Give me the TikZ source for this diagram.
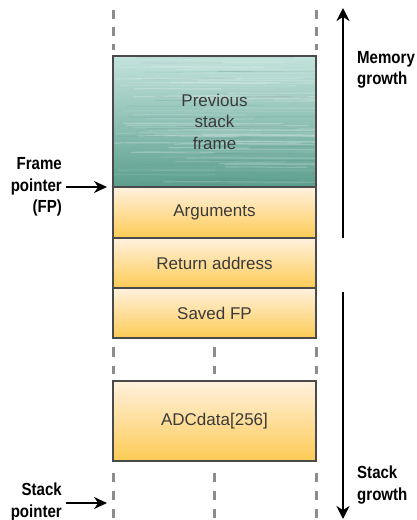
\documentclass[tikz,border=0pt]{standalone}
\usepackage{fontspec}
\setmainfont{Liberation Sans}
\newfontfamily\labelfont[FakeStretch=0.86]{Liberation Sans Bold}
\usetikzlibrary{arrows.meta}

\definecolor{boxline}{HTML}{4A4A4A}
\definecolor{boxtext}{HTML}{3A3A3A}
\definecolor{orangetop}{HTML}{FFF1DE}
\definecolor{orangebot}{HTML}{FDCB55}
\definecolor{tealtop}{HTML}{C3E3DB}
\definecolor{tealbot}{HTML}{5C9F8F}
\definecolor{dashgray}{HTML}{8C8C8C}

\tikzset{
  framebox/.style={draw=boxline, line width=1.3pt, minimum width=203pt,
    inner sep=0pt, text=boxtext, align=center,
    font=\fontsize{17}{21.5}\selectfont},
  localbox/.style={framebox, top color=orangetop, bottom color=orangebot},
  prevbox/.style={framebox, top color=tealtop, bottom color=tealbot},
  column/.style={draw=dashgray, line width=3pt},
  sidelabel/.style={font=\labelfont\fontsize{17.5}{21.5}\selectfont,
    text=black, inner sep=0pt},
  pointer/.style={line width=2.4pt, -{Stealth[length=13pt,width=12pt]}},
  growth/.style={line width=2.4pt, -{Stealth[length=13pt,width=13pt]}}
}

\begin{document}
\begin{tikzpicture}[x=1pt,y=-1pt]
\useasboundingbox (0,0) rectangle (416,520);

% stack frame boxes
\node[prevbox, minimum height=131pt] (prev) at (214.5,121.5) {};
\node[localbox, minimum height=51pt] (args) at (214.5,212.5) {Arguments};
\node[localbox, minimum height=50pt] (ret) at (214.5,263) {Return address};
\node[localbox, minimum height=50pt] (sfp) at (214.5,313) {Saved FP};
\node[localbox, minimum height=80pt] (adc) at (214.5,421) {ADCdata[256]};

% streaks across the previous frame
\begin{scope}
  \clip (114,57) rectangle (315,186);
  \pgfmathsetseed{11}
  \foreach \i in {1,...,60} {
    \pgfmathsetmacro{\yy}{57+129*rnd}
    \pgfmathsetmacro{\xa}{110+120*rnd}
    \pgfmathsetmacro{\xb}{\xa+80+140*rnd}
    \pgfmathsetmacro{\op}{0.08+0.18*rnd}
    \draw[white, opacity=\op, line width=1.2pt]
      (\xa,\yy) .. controls (\xa+40,\yy-1) and (\xb-40,\yy+1) .. (\xb,\yy);
  }
  \foreach \i in {1,...,25} {
    \pgfmathsetmacro{\yy}{57+129*rnd}
    \pgfmathsetmacro{\xa}{110+120*rnd}
    \pgfmathsetmacro{\xb}{\xa+80+140*rnd}
    \pgfmathsetmacro{\op}{0.05+0.1*rnd}
    \draw[tealbot!60!black, opacity=\op, line width=0.8pt]
      (\xa,\yy) .. controls (\xa+40,\yy+1) and (\xb-40,\yy-1) .. (\xb,\yy);
  }
\end{scope}
\node[framebox, minimum height=131pt] (prevtext) at (prev) {Previous\\stack\\frame};

% dashed columns
\draw[column, dash pattern=on 9pt off 8pt] (113,10) -- (113,50);
\draw[column, dash pattern=on 9pt off 8pt] (316,10) -- (316,50);
\foreach \x in {113,214.5,316} {
  \draw[column, dash pattern=on 10pt off 9pt] (\x,347) -- (\x,374);
  \draw[column, dash pattern=on 9pt off 9pt] (\x,473) -- (\x,520);
}

% pointers
\coordinate (fpstart) at (66,187);
\coordinate (fpend) at (107,187);
\draw[pointer] (fpstart) -- (fpend);
\node[sidelabel, anchor=east, align=right] (fplabel) at (62,187) {Frame\\pointer\\(FP)};

\coordinate (spstart) at (66,503);
\coordinate (spend) at (107,503);
\draw[pointer] (spstart) -- (spend);
\node[sidelabel, anchor=east, align=right] (splabel) at (62,502) {Stack\\pointer};

% growth directions
\coordinate (memlo) at (343,238);
\coordinate (memhi) at (343,8);
\draw[growth] (memlo) -- (memhi);
\node[sidelabel, anchor=west, align=left] (memlabel) at (357,70) {Memory\\growth};

\coordinate (stkhi) at (343,292);
\coordinate (stklo) at (343,519);
\draw[growth] (stkhi) -- (stklo);
\node[sidelabel, anchor=west, align=left] (stklabel) at (357,485) {Stack\\growth};
\end{tikzpicture}
\end{document}
